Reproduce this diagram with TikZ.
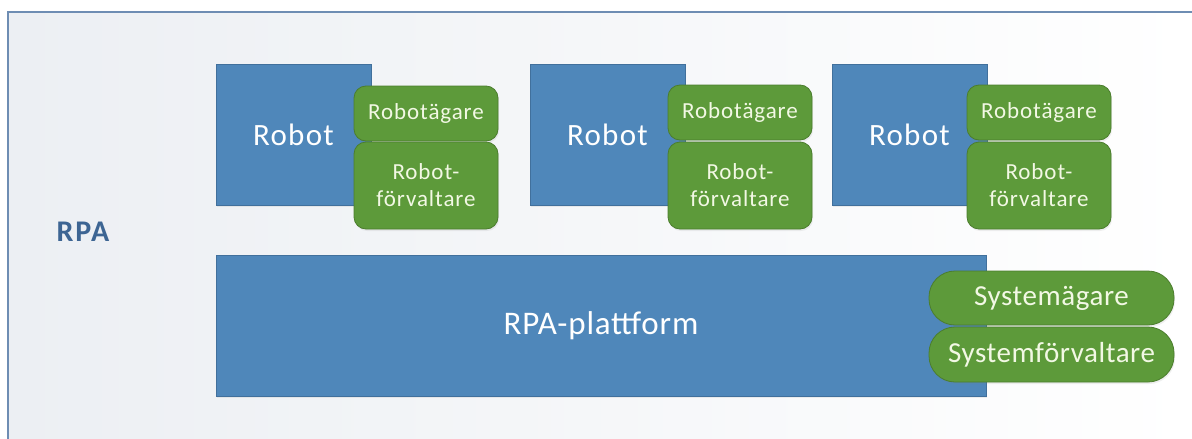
\documentclass[tikz,border=0pt]{standalone}
\usepackage{fontspec}
\setmainfont{Carlito}
\usetikzlibrary{shadows}
\definecolor{rpablue}{HTML}{4F87BA}
\definecolor{rpablueedge}{HTML}{41709C}
\definecolor{rpagreen}{HTML}{5D9A3A}
\definecolor{rpagreenedge}{HTML}{4B7D2D}
\definecolor{greentext}{HTML}{F2F8E4}
\definecolor{framecol}{HTML}{6E8DB3}
\definecolor{bgtop}{HTML}{ECEFF3}
\definecolor{labelblue}{HTML}{3D6593}
\newcommand{\lsp}[1]{\addfontfeature{LetterSpace=#1}}
\tikzset{
  bluebox/.style={draw=rpablueedge, line width=0.6pt, fill=rpablue, text=white,
    anchor=north west, inner sep=0pt, outer sep=0pt, align=center,
    drop shadow={opacity=0.12, shadow xshift=1pt, shadow yshift=-2pt}},
  greenbox/.style={draw=rpagreenedge, line width=0.8pt, fill=rpagreen, text=greentext,
    anchor=north west, inner sep=0pt, outer sep=0pt, align=center,
    rounded corners=12pt, minimum width=144pt,
    font=\fontsize{23}{27}\selectfont\lsp{4},
    drop shadow={opacity=0.12, shadow xshift=1pt, shadow yshift=-2pt}},
  sysbox/.style={greenbox, rounded corners=26pt, minimum width=245pt,
    font=\fontsize{29}{30}\selectfont\lsp{2}},
  robotbox/.style={bluebox, minimum width=155pt, minimum height=141pt,
    font=\fontsize{31}{31}\selectfont\lsp{4}},
}
\begin{document}
\begin{tikzpicture}[x=1pt,y=-1pt]
\useasboundingbox (0,0) rectangle (1192,439);
\fill[white] (0,0) rectangle (1192,439);
\shade[shading angle=135, left color=bgtop, right color=white] (8,12) rectangle (1192,439);
\draw[framecol, line width=1.6pt] (8,439) -- (8,12) -- (1192,12);

\node[anchor=center, text=labelblue, font=\fontsize{30}{30}\selectfont\bfseries\lsp{6}] (rpa) at (83,232) {RPA};

% robots
\node[robotbox] (r1) at (216,64) {Robot};
\node[robotbox] (r2) at (530,64) {Robot};
\node[robotbox] (r3) at (832,64) {Robot};

\node[greenbox, minimum height=55pt] (o1) at (354,86) {Robotägare};
\node[greenbox, minimum height=87pt] (f1) at (354,142) {Robot-\\förvaltare};
\node[greenbox, minimum height=55pt] (o2) at (668,85) {Robotägare};
\node[greenbox, minimum height=87pt] (f2) at (668,142) {Robot-\\förvaltare};
\node[greenbox, minimum height=55pt] (o3) at (967,85) {Robotägare};
\node[greenbox, minimum height=87pt] (f3) at (967,142) {Robot-\\förvaltare};

% platform
\node[bluebox, minimum width=770pt, minimum height=141pt, font=\fontsize{33}{33}\selectfont\lsp{2.5}] (plat) at (216,255) {RPA-plattform};
\node[sysbox, minimum height=54pt] (sa) at (929,271) {Systemägare};
\node[sysbox, minimum height=55pt] (sf) at (929,327) {Systemförvaltare};
\end{tikzpicture}
\end{document}
